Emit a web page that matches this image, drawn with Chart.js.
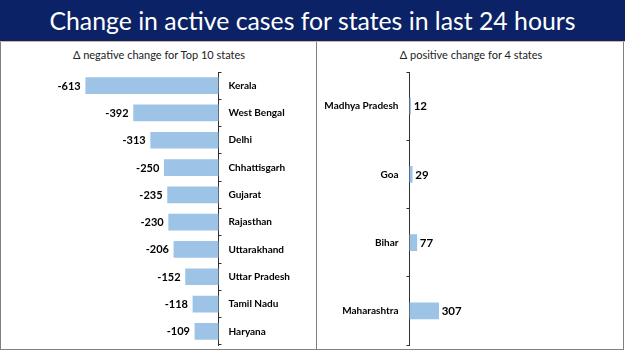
<!DOCTYPE html>
<html>
<head>
<meta charset="utf-8">
<script src="https://cdn.jsdelivr.net/npm/chart.js@4/dist/chart.umd.min.js"></script>
<style>
  html, body { margin: 0; padding: 0; background: #fff; }
  body { width: 625px; height: 351px; position: relative; overflow: hidden; font-family: 'Lato', sans-serif; }
  #banner { position: absolute; left: 0; top: 0; width: 625px; height: 41px; background: #0b2266; color: #fff;
            font-size: 24.8px; line-height: 41px; text-align: center; white-space: nowrap; }
  #tan { position: absolute; left: 0; top: 41px; width: 625px; height: 1px; background: #d8b48e; }
  .vline { position: absolute; top: 42px; width: 1px; height: 308px; background: #808080; }
  #bottom { position: absolute; left: 0; top: 349px; width: 624px; height: 1px; background: #808080; }
  .sub { position: absolute; top: 48px; font-size: 11px; color: #222; white-space: nowrap; transform: translateX(-50%); }
  canvas { position: absolute; }
</style>
</head>
<body>
<div id="banner">Change in active cases for states in last 24 hours</div>
<div id="tan"></div>
<div class="vline" style="left:0px"></div>
<div class="vline" style="left:316px"></div>
<div class="vline" style="left:623px"></div>
<div id="bottom"></div>
<div class="sub" style="left:159px">Δ negative change for Top 10 states</div>
<div class="sub" style="left:471px">Δ positive change for 4 states</div>
<canvas id="left" width="315" height="289" style="left:1px;top:62px"></canvas>
<canvas id="right" width="306" height="289" style="left:317px;top:62px"></canvas>
<script>
const negStates = ['Kerala', 'West Bengal', 'Delhi', 'Chhattisgarh', 'Gujarat', 'Rajasthan', 'Uttarakhand', 'Uttar Pradesh', 'Tamil Nadu', 'Haryana'];
const negValues = [-613, -392, -313, -250, -235, -230, -206, -152, -118, -109];
const posStates = ['Madhya Pradesh', 'Goa', 'Bihar', 'Maharashtra'];
const posValues = [12, 29, 77, 307];

const barColor = '#9dc3e6';
const axisColor = '#303030';

const valueLabels = {
  id: 'valueLabels',
  afterDatasetsDraw(chart, args, opts) {
    const ctx = chart.ctx;
    const meta = chart.getDatasetMeta(0);
    const data = chart.data.datasets[0].data;
    ctx.save();
    ctx.font = 'bold ' + opts.size + 'px Lato';
    ctx.fillStyle = '#000';
    ctx.textBaseline = 'middle';
    meta.data.forEach((bar, i) => {
      const v = data[i];
      if (v < 0) { ctx.textAlign = 'right'; ctx.fillText(String(v), bar.x - 5, bar.y + 0.5); }
      else { ctx.textAlign = 'left'; ctx.fillText(String(v), bar.x + 3, bar.y + 0.5); }
    });
    ctx.restore();
  }
};

function makeChart(id, labels, values, cfg) {
  return new Chart(document.getElementById(id), {
    type: 'bar',
    data: { labels: labels, datasets: [{ data: values, backgroundColor: barColor, borderWidth: 0, barThickness: 16 }] },
    plugins: [valueLabels],
    options: {
      responsive: false,
      animation: false,
      indexAxis: 'y',
      layout: { padding: cfg.padding },
      plugins: { legend: { display: false }, tooltip: { enabled: false }, valueLabels: { size: cfg.labelSize } },
      scales: {
        x: { display: false, min: cfg.min, max: cfg.max },
        y: {
          position: cfg.axisPos,
          grid: { drawOnChartArea: false, drawTicks: true, tickLength: 3, color: axisColor, offset: true },
          border: { display: true, color: axisColor, width: 1 },
          ticks: { color: '#000', font: { family: 'Lato', weight: 'bold', size: 10 }, padding: cfg.tickPad },
          afterFit: s => { s.width = cfg.axisWidth; s.paddingTop = 0; s.paddingBottom = 0; }
        }
      }
    }
  });
}

makeChart('left', negStates, negValues, {
  padding: { left: 65.9, right: 0, top: 10, bottom: 6 },
  min: -700, max: 0, axisPos: 'right', axisWidth: 97.5, tickPad: 7, labelSize: 11
});
makeChart('right', posStates, posValues, {
  padding: { left: 0, right: 23.5, top: 10, bottom: 6 },
  min: 0, max: 2000, axisPos: 'left', axisWidth: 92.5, tickPad: 8, labelSize: 11.5
});
</script>
</body>
</html>
